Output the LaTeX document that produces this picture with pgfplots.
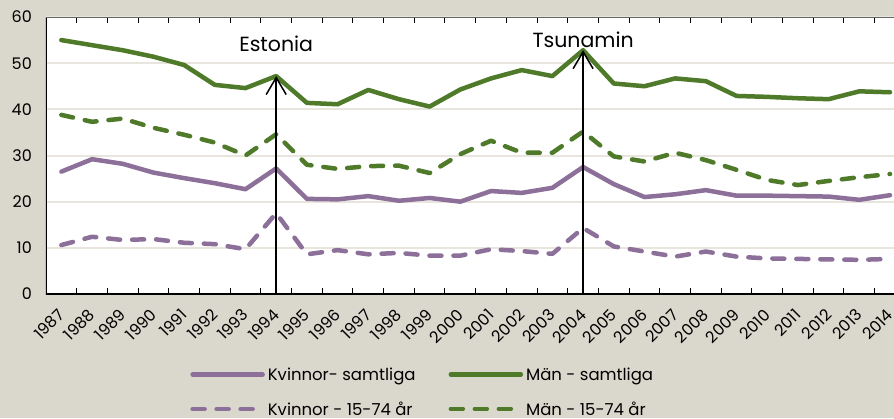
\documentclass[border=0pt]{standalone}
\usepackage{fontspec}
\setmainfont{Poppins}
\usepackage{pgfplots}
\pgfplotsset{compat=1.18}
\usetikzlibrary{arrows.meta}
\definecolor{bg}{RGB}{218,215,204}
\definecolor{mgreen}{RGB}{78,122,42}
\definecolor{kpurple}{RGB}{141,112,153}
\definecolor{gridc}{RGB}{232,229,222}
\begin{document}
\begin{tikzpicture}[x=1pt,y=1pt]
\clip (0,0) rectangle (894,418);
\fill[bg] (0,0) rectangle (894,418);
\begin{axis}[
  at={(46pt,124pt)}, anchor=south west,
  width=848pt, height=277pt, scale only axis,
  xmin=-0.5, xmax=27.13, ymin=0, ymax=60,
  axis background/.style={fill=white},
  axis line style={draw=none},
  /pgf/number format/assume math mode=true,
  xtick={0,...,27},
  xticklabels={1987,1988,1989,1990,1991,1992,1993,1994,1995,1996,1997,1998,1999,2000,2001,2002,2003,2004,2005,2006,2007,2008,2009,2010,2011,2012,2013,2014},
  major x tick style={draw=none},
  minor xtick={0.5,1.5,...,26.5},
  minor tick length=6pt,
  tick align=inside,
  minor x tick style={black, line width=1pt},
  xticklabel style={yshift=-18pt, xshift=0pt, rotate=45, anchor=east, inner sep=0pt, font=\fontsize{16}{16}\selectfont},
  ytick={0,10,...,60},
  major y tick style={draw=none},
  yticklabel style={inner sep=0pt, xshift=-14pt, font=\fontsize{16}{16}\selectfont},
  ymajorgrids, grid style={gridc, line width=2pt},
  legend columns=2,
  legend style={at={(axis description cs:0.17,-0.256)}, anchor=north west, draw=none, fill=none,
    font=\fontsize{16.5}{16.5}\selectfont, row sep=15.5pt, inner sep=0pt,
    /tikz/every even column/.append style={column sep=30pt},
    nodes={inner sep=3pt, text depth=0pt}},
  legend cell align=left,
  legend image code/.code={\draw[#1] (0pt,0pt) -- (70pt,0pt);},
  every axis plot/.append style={line width=4.5pt, line join=round, line cap=round},
]
\addplot[kpurple] coordinates {(0,26.5)(1,29.2)(2,28.2)(3,26.3)(4,25.1)(5,24.0)(6,22.7)(7,27.2)(8,20.6)(9,20.5)(10,21.2)(11,20.2)(12,20.8)(13,20.0)(14,22.3)(15,21.9)(16,23.0)(17,27.5)(18,23.8)(19,21.0)(20,21.6)(21,22.5)(22,21.3)(23,21.3)(24,21.2)(25,21.1)(26,20.4)(27,21.4)};
\addlegendentry{Kvinnor- samtliga}
\addplot[mgreen] coordinates {(0,55.0)(1,53.9)(2,52.8)(3,51.4)(4,49.6)(5,45.3)(6,44.6)(7,47.2)(8,41.4)(9,41.1)(10,44.2)(11,42.2)(12,40.6)(13,44.3)(14,46.7)(15,48.5)(16,47.2)(17,52.8)(18,45.6)(19,45.0)(20,46.7)(21,46.1)(22,42.9)(23,42.7)(24,42.4)(25,42.2)(26,43.9)(27,43.7)};
\addlegendentry{Män - samtliga}
\addplot[kpurple, dash pattern=on 12pt off 12pt] coordinates {(0,10.6)(1,12.4)(2,11.7)(3,11.9)(4,11.1)(5,10.8)(6,9.7)(7,17.5)(8,8.6)(9,9.5)(10,8.6)(11,8.9)(12,8.3)(13,8.3)(14,9.7)(15,9.3)(16,8.7)(17,14.3)(18,10.3)(19,9.2)(20,8.1)(21,9.2)(22,8.1)(23,7.7)(24,7.6)(25,7.5)(26,7.4)(27,7.6)};
\addlegendentry{Kvinnor - 15-74 år}
\addplot[mgreen, dash pattern=on 12pt off 12pt] coordinates {(0,38.8)(1,37.3)(2,38.0)(3,36.0)(4,34.5)(5,32.8)(6,30.0)(7,34.6)(8,28.0)(9,27.1)(10,27.7)(11,27.8)(12,26.2)(13,30.3)(14,33.2)(15,30.6)(16,30.6)(17,35.2)(18,29.8)(19,28.7)(20,30.6)(21,29.0)(22,26.9)(23,24.7)(24,23.6)(25,24.5)(26,25.3)(27,26.0)};
\addlegendentry{Män - 15-74 år}
\addplot[black, line width=1.5pt, line cap=butt, forget plot, -{Straight Barb[length=17pt,width=20pt,line width=1.5pt]}] coordinates {(7,0)(7,47.2)};
\addplot[black, line width=1.5pt, line cap=butt, forget plot, -{Straight Barb[length=17pt,width=20pt,line width=1.5pt]}] coordinates {(17,0)(17,52.8)};
\node[font=\fontsize{20.5}{20.5}\selectfont] at (axis cs:7,54.2) {Estonia};
\node[font=\fontsize{20.5}{20.5}\selectfont] at (axis cs:17,55.0) {Tsunamin};
\draw[black, line width=1.5pt] (rel axis cs:0,1) -- (rel axis cs:0,0) -- (rel axis cs:1,0);
\draw[black!60, line width=1.5pt] (rel axis cs:0,1) -- (rel axis cs:1,1);
\end{axis}
\end{tikzpicture}
\end{document}
